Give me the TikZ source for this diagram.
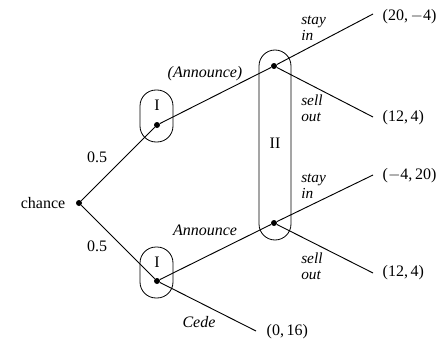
\documentclass[tikz,border=0pt]{standalone}
\usepackage{fontspec}
\setmainfont{Liberation Serif}
\begin{document}
\begin{tikzpicture}[x=0.75pt,y=-0.75pt,
  dot/.style={circle,fill=black,inner sep=0pt,minimum size=4.5pt},
  edge/.style={line width=0.7pt},
  info/.style={line width=0.6pt,rounded corners=12pt},
  lab/.style={font=\itshape\fontsize{12}{12}\selectfont},
  txt/.style={font=\fontsize{12}{13}\selectfont},
  mv/.style={font=\itshape\fontsize{11.5}{12}\selectfont,align=left,anchor=west,inner sep=0pt}]
\useasboundingbox (0,0) rectangle (447,339);
% information sets
\draw[info] (140,90) rectangle (173,142);
\draw[info] (140,247) rectangle (173,298);
\draw[info] (259,50) rectangle (291,240);
% nodes
\node[dot] (c) at (79,203) {};
\node[dot] (a) at (157,125) {};
\node[dot] (b) at (157,281) {};
\node[dot] (u) at (274,66) {};
\node[dot] (d) at (274,223) {};
\coordinate (t1) at (373,14);
\coordinate (t2) at (373,117);
\coordinate (t3) at (373,175);
\coordinate (t4) at (373,273);
\coordinate (t5) at (256,331);
% edges
\draw[edge] (c) -- (a);
\draw[edge] (c) -- (b);
\draw[edge] (a) -- (u);
\draw[edge] (b) -- (d);
\draw[edge] (b) -- (t5);
\draw[edge] (u) -- (t1);
\draw[edge] (u) -- (t2);
\draw[edge] (d) -- (t3);
\draw[edge] (d) -- (t4);
% labels
\node[txt,anchor=east] (ch) at (70,203) {chance};
\node[txt] (p1) at (97,157) {0.5};
\node[txt] (p2) at (97,246) {0.5};
\node[txt] (i1) at (157,105) {I};
\node[txt] (i2) at (157,262) {I};
\node[txt] (i3) at (275,143) {II};
\node[lab] (l1) at (205,74) {(Announce)};
\node[lab] (l2) at (205,230) {Announce};
\node[lab] (l3) at (199,322) {Cede};
\node[mv] (m1) at (301,28) {stay\\in};
\node[mv] (m2) at (301,108) {sell\\out};
\node[mv] (m3) at (301,186) {stay\\in};
\node[mv] (m4) at (301,266) {sell\\out};
\node[txt,anchor=west] (v1) at (378,17) {(20,\,$-$4)};
\node[txt,anchor=west] (v2) at (378,118) {(12,\,4)};
\node[txt,anchor=west] (v3) at (378,176) {($-$4,\,20)};
\node[txt,anchor=west] (v4) at (378,273) {(12,\,4)};
\node[txt,anchor=west] (v5) at (262,332) {(0,\,16)};
\end{tikzpicture}
\end{document}
